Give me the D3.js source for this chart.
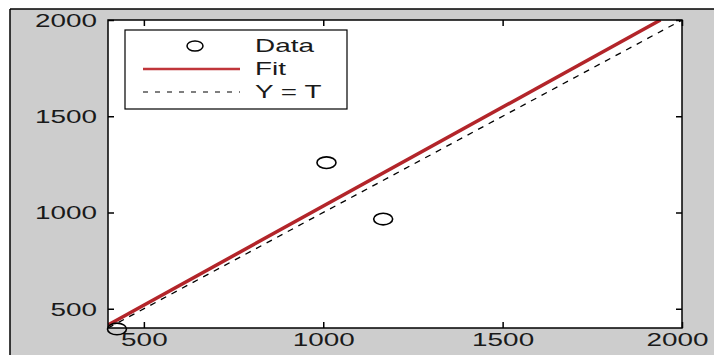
<!DOCTYPE html>
<html>
<head>
<meta charset="utf-8">
<script src="https://cdn.jsdelivr.net/npm/d3@7"></script>
<style>
  body { margin: 0; background: #fff; }
  text { font-family: "Liberation Sans", Arial, sans-serif; fill: #1a1a1a; }
</style>
</head>
<body>
<svg id="chart"></svg>
<script>
const dataX = [1009, 1167, 425];
const dataY = [1259, 966, 395];
const fitX = [400, 1940];
const fitY = [416, 2000];
const refX = [400, 2000];
const refY = [400, 2000];
const xTicks = [500, 1000, 1500, 2000];
const yTicks = [500, 1000, 1500, 2000];
const legendLabels = ["Data", "Fit", "Y = T"];

const W = 714, H = 355;
const stretch = 1.55; // picture is widened horizontally
const plot = { left: 108, top: 20, right: 682, bottom: 328 };

const svg = d3.select("#chart").attr("width", W).attr("height", H);

// figure background with frame
svg.append("rect").attr("x", 10).attr("y", 9).attr("width", W - 10).attr("height", H - 9)
  .style("fill", "#cdcdcd");
svg.append("line").attr("x1", 10).attr("y1", 9).attr("x2", W).attr("y2", 9)
  .style("stroke", "#000").style("stroke-width", 1.5);
svg.append("line").attr("x1", 10).attr("y1", 9).attr("x2", 10).attr("y2", H)
  .style("stroke", "#000").style("stroke-width", 1.5);

const x = d3.scaleLinear().domain([400, 2000]).range([plot.left, plot.right]);
const y = d3.scaleLinear().domain([400, 2000]).range([plot.bottom, plot.top]);
const fmt = d3.format("d");

svg.append("rect")
  .attr("x", plot.left).attr("y", plot.top)
  .attr("width", plot.right - plot.left).attr("height", plot.bottom - plot.top)
  .style("fill", "#fff");

svg.append("clipPath").attr("id", "clip")
  .append("rect")
  .attr("x", plot.left).attr("y", plot.top)
  .attr("width", plot.right - plot.left).attr("height", plot.bottom - plot.top);

// axes, ticks pointing inward
const axisB = svg.append("g").attr("transform", `translate(0,${plot.bottom})`)
  .call(d3.axisBottom(x).tickValues(xTicks).tickFormat(fmt).tickSizeInner(-6).tickSizeOuter(0));
const axisT = svg.append("g").attr("transform", `translate(0,${plot.top})`)
  .call(d3.axisTop(x).tickValues(xTicks).tickSizeInner(-6).tickSizeOuter(0).tickFormat(""));
const axisL = svg.append("g").attr("transform", `translate(${plot.left},0)`)
  .call(d3.axisLeft(y).tickValues(yTicks).tickFormat(fmt).tickSizeInner(-6).tickSizeOuter(0));
const axisR = svg.append("g").attr("transform", `translate(${plot.right},0)`)
  .call(d3.axisRight(y).tickValues(yTicks).tickSizeInner(-6).tickSizeOuter(0).tickFormat(""));

[axisB, axisT, axisL, axisR].forEach((a) => {
  a.select(".domain").remove();
  a.selectAll("line").style("stroke", "#000").style("stroke-width", 1.5);
});

axisB.selectAll("text")
  .style("font-size", "18px")
  .attr("dy", "0.71em")
  .attr("y", 5)
  .attr("x", (d) => (d === 2000 ? -5 / stretch : 0))
  .attr("transform", `scale(${stretch},1)`);

axisL.selectAll("text")
  .style("font-size", "18px")
  .attr("x", -11 / stretch)
  .attr("dy", "0.36em")
  .attr("transform", `scale(${stretch},1)`);

// lines
const line = d3.line().x((d) => x(d[0])).y((d) => y(d[1]));

svg.append("path")
  .attr("clip-path", "url(#clip)")
  .attr("d", line(refX.map((v, i) => [v, refY[i]])))
  .style("fill", "none")
  .style("stroke", "#000")
  .style("stroke-width", 1.3)
  .style("stroke-dasharray", "6,6");

svg.append("path")
  .attr("clip-path", "url(#clip)")
  .attr("d", line(fitX.map((v, i) => [v, fitY[i]])))
  .style("fill", "none")
  .style("stroke", "#b3252a")
  .style("stroke-width", 3.5);

// plot frame
svg.append("rect")
  .attr("x", plot.left).attr("y", plot.top)
  .attr("width", plot.right - plot.left).attr("height", plot.bottom - plot.top)
  .style("fill", "none").style("stroke", "#000").style("stroke-width", 1.5);

// data markers
svg.selectAll(".pt")
  .data(dataX.map((v, i) => [v, dataY[i]]))
  .enter()
  .append("ellipse")
  .attr("class", "pt")
  .attr("cx", (d) => x(d[0]))
  .attr("cy", (d) => y(d[1]))
  .attr("rx", 9.5)
  .attr("ry", 5.8)
  .style("fill", "none")
  .style("stroke", "#000")
  .style("stroke-width", 1.6);

// legend
const legend = svg.append("g").attr("class", "legend");
legend.append("rect")
  .attr("x", 125).attr("y", 30).attr("width", 222).attr("height", 79)
  .style("fill", "#fff").style("stroke", "#000").style("stroke-width", 1.2);

const rowY = [46, 69, 92];
legend.append("ellipse")
  .attr("cx", 195).attr("cy", rowY[0]).attr("rx", 8).attr("ry", 5)
  .style("fill", "none").style("stroke", "#000").style("stroke-width", 1.5);
legend.append("line")
  .attr("x1", 143).attr("x2", 240).attr("y1", rowY[1]).attr("y2", rowY[1])
  .style("stroke", "#c0353a").style("stroke-width", 2.5);
legend.append("line")
  .attr("x1", 143).attr("x2", 240).attr("y1", rowY[2]).attr("y2", rowY[2])
  .style("stroke", "#000").style("stroke-width", 1.2)
  .style("stroke-dasharray", "5,7");

legend.selectAll(".lt")
  .data(legendLabels)
  .enter()
  .append("text")
  .attr("class", "lt")
  .attr("transform", (d, i) => `translate(255,${rowY[i]}) scale(${stretch},1)`)
  .attr("dy", "0.36em")
  .style("font-size", "18px")
  .text((d) => d);
</script>
</body>
</html>
